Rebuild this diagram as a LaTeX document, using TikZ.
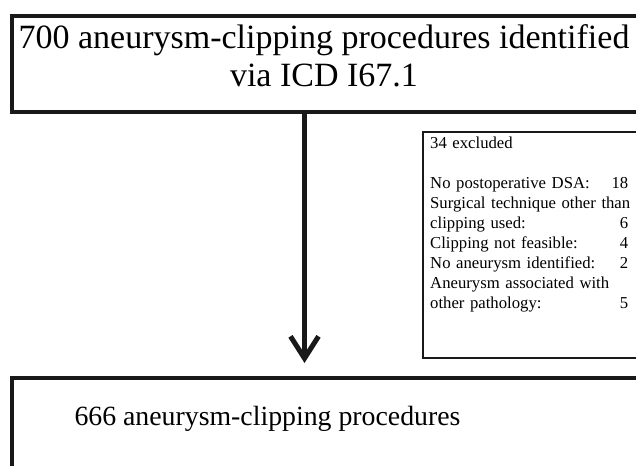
\documentclass[tikz,border=0pt]{standalone}
\usepackage{fontspec}
\setmainfont{Liberation Serif}
\usetikzlibrary{arrows.meta}
\tikzset{
  bigbox/.style={draw=black!90, line width=4pt, inner sep=0pt, anchor=north west},
  smallbox/.style={draw=black!90, line width=2pt, inner sep=0pt, anchor=north west},
  bigtext/.style={inner sep=0pt, align=center, font=\fontsize{34}{38}\selectfont},
  bottext/.style={inner sep=0pt, font=\fontsize{27.8}{34}\selectfont},
  smalltext/.style={inner sep=0pt, text width=198pt, align=left, font=\fontsize{16.7}{20}\selectfont},
  flowarrow/.style={line width=5pt, black!90, -{Straight Barb[length=22pt,width=28pt]}}
}
\begin{document}
\begin{tikzpicture}[x=1pt,y=-1pt]
\clip (0,0) rectangle (636,465);
\fill[white] (0,0) rectangle (636,465);
% top box
\node[bigbox, minimum width=630pt, minimum height=96.5pt] (top) at (10,14) {};
\node[bigtext, anchor=north] (toptxt) at (324,24.5) {700 aneurysm-clipping procedures identified\\via ICD I67.1};
% excluded box
\node[smallbox, minimum width=240pt, minimum height=225.5pt] (excl) at (422,131.5) {};
\node[smalltext, anchor=north west] (excltxt) at (430,136.6) {34 excluded\\[20pt]
No postoperative DSA:\hfill 18\\
\mbox{Surgical technique other than}\\
clipping used:\hfill 6\\
Clipping not feasible:\hfill 4\\
No aneurysm identified:\hfill 2\\
Aneurysm associated with\\
other pathology:\hfill 5};
% bottom box
\node[bigbox, minimum width=660pt, minimum height=120pt] (bot) at (10,376) {};
\node[bottext, anchor=base] (bottxt) at (267.5,425) {666 aneurysm-clipping procedures};
% arrow
\coordinate (arrx) at (304.5,0);
\draw[flowarrow] (top.south -| arrx) -- ([yshift=13pt]bot.north -| arrx);
\end{tikzpicture}
\end{document}
